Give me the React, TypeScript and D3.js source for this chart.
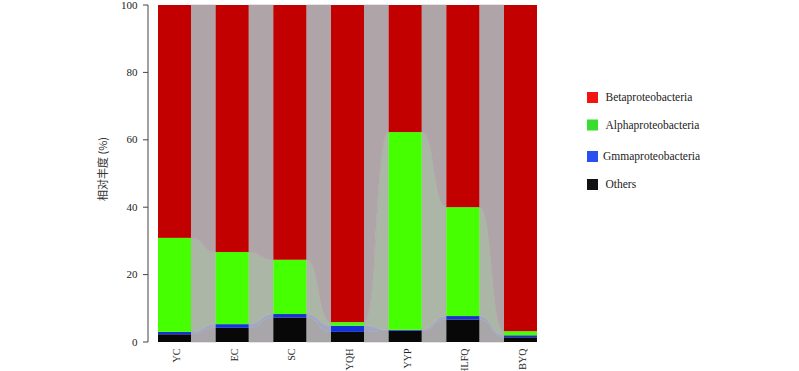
import React from "react";
import * as d3 from "d3";

const categories = ["YC", "EC", "SC", "YQH", "YYP", "HLFQ", "BYQ"];
const others = [2.3, 4.2, 7.3, 3.0, 3.35, 6.7, 1.4];
const gmma = [0.7, 1.1, 1.0, 1.85, 0.3, 1.0, 0.6];
const alpha = [27.9, 21.4, 16.1, 1.05, 58.65, 32.3, 1.2];
const beta = [69.1, 73.3, 75.6, 94.1, 37.7, 60.0, 96.8];
const yTicks = [0, 20, 40, 60, 80, 100];

const seriesKeys = ["Others", "Gmmaproteobacteria", "Alphaproteobacteria", "Betaproteobacteria"];
const seriesValues: Record<string, number[]> = {
  Others: others,
  Gmmaproteobacteria: gmma,
  Alphaproteobacteria: alpha,
  Betaproteobacteria: beta,
};
const barColors: Record<string, string> = {
  Others: "#080808",
  Gmmaproteobacteria: "#1432d6",
  Alphaproteobacteria: "#46ff00",
  Betaproteobacteria: "#c20000",
};
const flowColors: Record<string, string> = {
  Others: "#a8a6a8",
  Gmmaproteobacteria: "#a3a8c2",
  Alphaproteobacteria: "#abb6a7",
  Betaproteobacteria: "#afa4a7",
};
const legendOrder = ["Betaproteobacteria", "Alphaproteobacteria", "Gmmaproteobacteria", "Others"];
const legendColors: Record<string, string> = {
  Betaproteobacteria: "#f21414",
  Alphaproteobacteria: "#38dd30",
  Gmmaproteobacteria: "#2a4ff0",
  Others: "#111111",
};
const legendY = [92, 119.5, 151, 179];
const legendTextX = [605.5, 605.5, 603, 605.5];

export default function App() {
  const width = 799;
  const height = 371;
  const x = d3.scaleBand<string>().domain(categories).range([158, 537]).paddingInner(0.428).paddingOuter(0);
  const y = d3.scaleLinear().domain([0, 100]).range([342, 5]);

  const rows = categories.map((c, i) => {
    const r: any = { cat: c };
    seriesKeys.forEach((k) => (r[k] = seriesValues[k][i]));
    return r;
  });
  const stacked = d3.stack<any>().keys(seriesKeys)(rows);

  const bw = x.bandwidth();
  const flows: JSX.Element[] = [];
  stacked.forEach((layer) => {
    const key = layer.key;
    for (let i = 0; i < categories.length - 1; i++) {
      const xr = (x(categories[i]) as number) + bw;
      const xl = x(categories[i + 1]) as number;
      const g = xl - xr;
      const k = 0.55;
      const c1 = xr + k * g;
      const c2 = xl - k * g;
      const u0 = y(layer[i][1]);
      const u1 = y(layer[i + 1][1]);
      const l0 = y(layer[i][0]);
      const l1 = y(layer[i + 1][0]);
      const d =
        `M${xr},${u0} C${c1},${u0} ${c2},${u1} ${xl},${u1} ` +
        `L${xl},${l1} C${c2},${l1} ${c1},${l0} ${xr},${l0} Z`;
      flows.push(<path key={`f-${key}-${i}`} d={d} fill={flowColors[key]} stroke={flowColors[key]} strokeWidth={0.6} />);
    }
  });

  return (
    <svg width={width} height={height} style={{ display: "block", position: "absolute", left: 0, top: 0 }}>
      <rect width={width} height={height} fill="#ffffff" />
      {flows}
      {stacked.map((layer) =>
        layer.map((d, i) => (
          <rect
            key={`b-${layer.key}-${i}`}
            x={x(categories[i])}
            y={y(d[1])}
            width={bw}
            height={y(d[0]) - y(d[1])}
            fill={barColors[layer.key]}
          />
        ))
      )}
      {/* Y axis */}
      <line x1={148} x2={148} y1={y(0)} y2={y(100)} stroke="#444" strokeWidth={1} />
      {yTicks.map((t) => (
        <g key={`t-${t}`}>
          <line x1={143} x2={148} y1={y(t)} y2={y(t)} stroke="#444" strokeWidth={1} />
          <text x={137.5} y={y(t)} dy="0.33em" textAnchor="end" fontFamily="'Liberation Serif', 'Times New Roman', serif" fontSize={11} fill="#222">
            {t}
          </text>
        </g>
      ))}
      <text
        transform={`translate(107,169) rotate(-90)`}
        textAnchor="middle"
        fontFamily="'Noto Sans CJK SC', 'Noto Sans', sans-serif"
        fontSize={11}
        fill="#333"
      >
        相对丰度 (%)
      </text>
      {/* X labels */}
      {categories.map((c) => (
        <text
          key={`x-${c}`}
          transform={`translate(${(x(c) as number) + bw / 2 + 5.5},348.5) rotate(-90)`}
          textAnchor="end"
          fontFamily="'Liberation Serif', 'Times New Roman', serif"
          fontSize={10}
          fill="#222"
        >
          {c}
        </text>
      ))}
      {/* Legend */}
      {legendOrder.map((k, i) => (
        <g key={`l-${k}`}>
          <rect x={587} y={legendY[i]} width={11} height={11} fill={legendColors[k]} />
          <text
            x={legendTextX[i]}
            y={legendY[i] + 5.5}
            dy="0.33em"
            fontFamily="'Liberation Serif', 'Times New Roman', serif"
            fontSize={11.5}
            fill="#222"
          >
            {k}
          </text>
        </g>
      ))}
    </svg>
  );
}
